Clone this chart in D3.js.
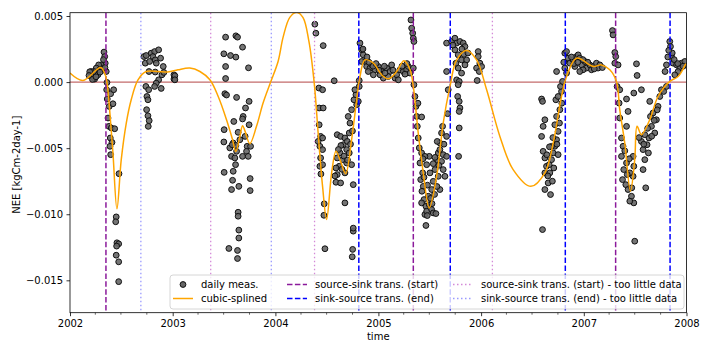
<!DOCTYPE html>
<html>
<head>
<meta charset="utf-8">
<script src="https://cdn.jsdelivr.net/npm/d3@7"></script>
<style>
  html, body { margin: 0; padding: 0; background: #fff; }
  svg { display: block; font-family: 'DejaVu Sans', sans-serif; }
</style>
</head>
<body>
<svg id="chart" width="702" height="342"></svg>
<script>
// daily measurements, [decimal year, NEE]
const meas2002a = [
  [2002.331,0.00227],[2002.338,0.00193],[2002.343,0.00143],[2002.304,0.0013],[2002.279,0.0013],
  [2002.256,0.00106],[2002.233,0.0008],[2002.207,0.0008],[2002.214,0.00042],[2002.240,0.00023],
  [2002.272,0.00055],[2002.289,0.00093],[2002.353,0.0008],[2002.192,0.00078],[2002.185,0.0005],
  [2002.219,0.0002],[2002.253,0.0004],[2002.316,0.001],[2002.326,0.0017],[2002.340,0.0011],[2002.292,0.00075],
  [2002.360,-0.00003],[2002.357,-0.00058],[2002.396,-0.00088],[2002.425,-0.00058],[2002.363,-0.00128],
  [2002.382,-0.00184],[2002.418,-0.00164],[2002.370,-0.00272],[2002.379,-0.00335],[2002.402,-0.00347],
  [2002.435,-0.00353],[2002.392,-0.00423],[2002.409,-0.00456],[2002.389,-0.00486],[2002.396,-0.00549],
  [2002.477,-0.00693],[2002.450,-0.0102],[2002.445,-0.01057],[2002.457,-0.01216],[2002.474,-0.01224],
  [2002.454,-0.01241],[2002.450,-0.0131],[2002.474,-0.0136],[2002.474,-0.0151]
];
const meas2002b = [
  [2002.720,0.00193],[2002.742,0.00201],[2002.733,0.00143],[2002.791,0.00219],[2002.824,0.00231],
  [2002.863,0.00244],[2002.807,0.00193],[2002.830,0.00168],[2002.775,0.00156],[2002.882,0.00181],
  [2002.840,0.00143],[2002.908,0.00118],[2002.769,0.0008],[2002.830,0.00076],[2002.895,0.00055],
  [2002.914,0.00073],[2003.012,0.00055],[2003.012,0.00023],[2002.863,0.00017],[2002.840,-0.00008],
  [2002.824,-0.00033],[2002.888,-0.00048],[2002.739,-0.00033],[2002.766,-0.00058],[2002.749,-0.00109],
  [2002.759,-0.00134],[2002.746,-0.00209],[2002.759,-0.00255],[2002.771,-0.00292],[2002.762,-0.00335],
  [2003.021,0.00048],[2003.021,0.00017]
];
const meas2003 = [
  [2003.515,0.0034],[2003.615,0.0035],[2003.631,0.0034],[2003.680,0.00264],[2003.498,0.00214],
  [2003.563,0.00201],[2003.615,0.00189],[2003.515,0.00118],[2003.738,0.00108],[2003.515,0.00027],
  [2003.508,-0.00088],[2003.524,-0.00098],[2003.622,-0.00116],[2003.744,-0.00146],[2003.709,-0.00196],
  [2003.686,-0.0026],[2003.680,-0.00279],[2003.595,-0.00298],[2003.744,-0.00323],[2003.501,-0.0036],
  [2003.637,-0.0038],[2003.705,-0.00411],[2003.498,-0.00453],[2003.589,-0.00461],[2003.615,-0.00479],
  [2003.654,-0.00436],[2003.725,-0.00486],[2003.556,-0.00498],[2003.622,-0.00524],[2003.573,-0.00562],
  [2003.680,-0.00562],[2003.719,-0.00524],[2003.579,-0.00474],[2003.758,-0.00486],[2003.605,-0.00574],
  [2003.735,-0.00562],[2003.501,-0.00683],[2003.589,-0.00675],[2003.612,-0.00625],[2003.583,-0.00743],
  [2003.573,-0.00813],[2003.644,-0.00789],[2003.754,-0.0073],[2003.754,-0.00821],[2003.637,-0.00985],
  [2003.637,-0.01015],[2003.644,-0.0112],[2003.644,-0.0118],[2003.547,-0.01259],[2003.631,-0.01274],
  [2003.631,-0.01335]
];
const meas2004 = [
  [2004.383,0.00438],[2004.393,0.0037],[2004.464,0.00276],[2004.571,0.0001],[2004.422,-0.00045],
  [2004.458,-0.00058],[2004.425,-0.00196],[2004.464,-0.00196],[2004.425,-0.00323],[2004.439,-0.00411],
  [2004.458,-0.00423],[2004.415,-0.00449],[2004.432,-0.00486],[2004.458,-0.00511],[2004.439,-0.00574],
  [2004.432,-0.00637],[2004.458,-0.00625],[2004.442,-0.00695],[2004.474,-0.00921],[2004.471,-0.01008],
  [2004.481,-0.01261],
  [2004.600,-0.00398],[2004.633,-0.00411],[2004.659,-0.00474],[2004.675,-0.00423],[2004.698,-0.00449],
  [2004.717,-0.00385],[2004.692,-0.00511],[2004.717,-0.00536],[2004.627,-0.00536],[2004.600,-0.00574],
  [2004.653,-0.00587],[2004.620,-0.00637],[2004.588,-0.0065],[2004.600,-0.007],[2004.588,-0.00758],
  [2004.633,-0.00763],[2004.675,-0.00687],[2004.692,-0.00612],[2004.740,-0.00625],[2004.756,-0.00776],
  [2004.675,-0.00914],[2004.756,-0.01128],[2004.750,-0.01266],[2004.746,-0.01322],[2004.756,-0.01105],
  [2004.636,-0.0048],[2004.665,-0.0056],[2004.612,-0.0051],[2004.646,-0.0066],[2004.700,-0.0059],
  [2004.729,-0.0047],[2004.748,-0.0037],[2004.578,-0.0071],
  [2004.724,-0.0031],[2004.740,-0.00209],[2004.763,-0.00134],[2004.782,-0.00096],[2004.772,-0.00058],
  [2004.707,-0.0026],[2004.789,-0.00171],[2004.805,-0.00146],[2004.814,-0.00033],[2004.814,0.00012]
];
const meas2005a = [
  [2004.821,0.00295],[2004.838,0.00244],[2004.853,0.00206],[2004.870,0.00156],[2004.838,0.00156],
  [2004.886,0.00118],[2004.918,0.00106],[2004.902,0.0008],[2004.935,0.0013],[2004.967,0.00093],
  [2004.999,0.00118],[2005.032,0.0008],[2005.048,0.0003],[2005.081,0.00106],[2005.113,0.0008],
  [2005.129,0.0013],[2005.162,0.0003],[2005.178,0.00055],[2005.210,0.00093],[2005.242,0.0008],
  [2005.275,0.00093],[2005.291,0.00118],[2005.308,0.00068],[2005.194,0.00017],[2005.016,0.00055],
  [2004.951,0.00055],[2005.096,0.00042],[2005.064,0.00068],[2004.850,0.0025],[2004.889,0.0019],
  [2004.908,0.0015],[2004.948,0.0012],[2004.977,0.0014],[2005.006,0.0009],[2005.058,0.0012],
  [2005.142,0.0009],[2005.230,0.0012],[2005.259,0.0006],[2005.278,0.0014],
  [2005.317,0.0047],[2005.324,0.00408],[2005.334,0.0037],[2005.340,0.00332],[2005.346,0.00307]
];
const meas2005b = [
  [2005.340,0.00106],[2005.346,-0.0002],[2005.356,-0.00109],[2005.366,-0.00184],[2005.373,-0.0026],
  [2005.421,-0.00264],[2005.379,-0.00335],[2005.388,-0.00423],[2005.398,-0.00498],[2005.421,-0.00536],
  [2005.405,-0.00612],[2005.431,-0.00687],[2005.412,-0.00738],[2005.437,-0.00789],[2005.424,-0.00826],
  [2005.444,-0.00889],[2005.421,-0.00914],[2005.463,-0.0094],[2005.453,-0.01002],[2005.470,-0.00977],
  [2005.463,-0.01085],[2005.495,-0.00927],[2005.519,-0.00965],[2005.534,-0.0099],[2005.560,-0.00995],
  [2005.486,-0.00864],[2005.519,-0.00813],[2005.534,-0.00751],[2005.502,-0.00687],[2005.551,-0.00662],
  [2005.567,-0.00587],[2005.534,-0.00617],[2005.470,-0.00625],[2005.495,-0.00562],[2005.453,-0.00562],
  [2005.583,-0.00536],[2005.599,-0.00461],[2005.573,-0.00449],[2005.615,-0.00385],[2005.625,-0.00335],
  [2005.599,-0.00511],[2005.615,-0.006],[2005.631,-0.00662],[2005.648,-0.00713],[2005.599,-0.00813],
  [2005.583,-0.00713],[2005.631,-0.00549],[2005.664,-0.00562],[2005.664,-0.00411],[2005.674,-0.00239],
  [2005.680,-0.00058],[2005.664,0.0008],
  [2005.444,-0.0072],[2005.478,-0.0078],[2005.508,-0.0088],[2005.547,-0.0085],[2005.476,-0.0101],
  [2005.522,-0.0092],[2005.570,-0.0079],[2005.589,-0.0063],[2005.434,-0.0058],[2005.551,-0.0057],
  [2005.638,-0.0047],[2005.385,-0.0016]
];
const meas2006a = [
  [2005.664,0.00295],[2005.713,0.00307],[2005.745,0.00332],[2005.762,0.00295],[2005.794,0.00307],
  [2005.826,0.00295],[2005.843,0.00269],[2005.745,0.00244],[2005.777,0.00206],[2005.810,0.00168],
  [2005.859,0.00168],[2005.843,0.0013],[2005.777,0.00106],[2005.755,0.00143],[2005.810,0.00068],
  [2005.762,0.00017],[2005.787,0.00005],[2005.777,-0.0002],[2005.772,-0.00109],[2005.787,-0.00146],
  [2005.794,-0.00196],[2005.787,-0.00222],[2005.787,-0.00347],[2005.781,-0.00562],
  [2005.972,0.00231],[2005.972,0.00193],[2005.988,0.00143],[2006.005,0.00118],[2005.956,0.00106],
  [2005.982,0.0008],[2005.962,0.00012],[2005.726,0.0028],[2005.813,0.0025],[2005.833,0.0021],[2005.872,0.0022]
];
const meas2006b = [
  [2006.589,-0.00128],[2006.598,-0.00146],[2006.621,-0.00285],[2006.604,-0.00335],[2006.589,-0.00411],
  [2006.604,-0.00524],[2006.621,-0.00574],[2006.637,-0.00637],[2006.621,-0.00687],[2006.653,-0.00763],
  [2006.621,-0.00813],[2006.676,-0.00851],[2006.598,-0.01116],[2006.669,-0.00687],[2006.686,-0.00587],
  [2006.702,-0.00536],[2006.718,-0.00486],[2006.686,-0.00486],[2006.735,-0.00436],[2006.750,-0.00373],
  [2006.718,-0.00323],[2006.735,-0.0026],[2006.767,-0.00209],[2006.728,-0.00134],[2006.750,-0.00109],
  [2006.783,-0.00071],[2006.773,-0.00033],[2006.793,0.00005],[2006.735,0.0008],[2006.750,-0.00549],
  [2006.663,-0.00625],[2006.708,-0.0065],[2006.640,-0.0055],[2006.694,-0.0075],[2006.650,-0.0071],
  [2006.738,-0.0047],[2006.763,-0.0031],[2006.786,-0.0016],[2006.699,-0.0042],[2006.666,-0.0049]
];
const meas2007a = [
  [2006.815,0.00219],[2006.832,0.00231],[2006.848,0.00181],[2006.815,0.00106],[2006.832,0.00068],
  [2006.864,0.00143],[2006.896,0.00168],[2006.929,0.00193],[2006.945,0.00206],[2006.961,0.00181],
  [2006.978,0.0013],[2007.010,0.00156],[2007.026,0.00106],[2007.059,0.0013],[2007.091,0.00118],
  [2007.123,0.00143],[2007.156,0.0013],[2006.993,0.00093],[2006.913,0.00118],[2006.961,0.0008],
  [2007.075,0.00093],[2007.139,0.00106],[2006.880,0.0019],[2006.904,0.0014],[2006.942,0.0015],
  [2006.991,0.0017],[2007.039,0.0015],[2007.102,0.0010],[2007.181,0.0011],[2006.805,0.0015],
  [2007.279,0.0039],[2007.285,0.00357],[2007.302,0.00224],[2007.311,0.00193],[2007.302,0.00143],
  [2007.334,0.0013]
];
const meas2007b = [
  [2007.324,-0.00033],[2007.350,-0.00058],[2007.344,-0.00159],[2007.350,-0.00272],[2007.367,-0.00423],
  [2007.382,-0.00486],[2007.367,-0.00562],[2007.389,-0.00662],[2007.377,-0.00738],[2007.409,-0.00776],
  [2007.431,-0.00813],[2007.464,-0.00864],[2007.487,-0.00914],[2007.448,-0.00901],[2007.496,-0.01204],
  [2007.416,-0.00335],[2007.431,-0.00222],[2007.416,-0.00128],[2007.513,0.00138],[2007.519,0.0005],
  [2007.487,-0.00083],[2007.561,-0.00058],[2007.480,-0.00562],[2007.487,-0.00637],[2007.480,-0.00713],
  [2007.448,-0.00687],[2007.416,-0.00612],[2007.561,-0.00449],[2007.577,-0.00511],[2007.594,-0.00587],
  [2007.577,-0.00662],[2007.603,-0.008],[2007.616,-0.00474],[2007.635,-0.00423],[2007.659,-0.00335],
  [2007.649,-0.0026],[2007.674,-0.00234],[2007.707,-0.00285],[2007.723,-0.00184],[2007.740,-0.00109],
  [2007.756,-0.00058],[2007.691,-0.00385],[2007.642,-0.00146],[2007.629,-0.00536],[2007.594,-0.00398],
  [2007.399,-0.0052],[2007.423,-0.0070],[2007.467,-0.0080],[2007.443,-0.0058],[2007.538,-0.0042],
  [2007.622,-0.0035],[2007.661,-0.0041],[2007.686,-0.0029],[2007.715,-0.0021],[2007.584,-0.0047],
  [2007.791,0.0008],[2007.805,0.0013],[2007.837,0.00307],[2007.844,0.00269],[2007.854,0.00193],
  [2007.870,0.00143],[2007.903,0.0013],[2007.935,0.00106],[2007.951,0.00143],[2007.984,0.00156],
  [2007.918,0.0008],[2007.886,0.00055],[2007.805,-0.00033],[2007.778,-0.00071],[2007.818,0.0019],
  [2007.861,0.0022],[2007.880,0.0017],[2007.915,0.0014],[2007.967,0.0012],[2007.827,0.0024]
];

const splineKnots = [
  [2002.000,0.00068],[2002.126,0.00012],[2002.299,0.0011],[2002.343,0.00055],[2002.363,-0.0002],
  [2002.386,-0.00209],[2002.418,-0.00534],[2002.457,-0.00959],[2002.499,-0.00587],[2002.548,-0.0031],
  [2002.596,-0.00134],[2002.662,0.00017],[2002.742,0.0008],[2002.856,0.0008],[2002.953,0.00076],
  [2003.051,0.00093],[2003.167,0.00106],[2003.265,0.0008],[2003.362,0.00017],[2003.443,-0.00109],
  [2003.524,-0.00285],[2003.583,-0.00436],[2003.615,-0.00526],[2003.654,-0.00411],[2003.680,-0.0033],
  [2003.705,-0.00373],[2003.751,-0.00466],[2003.816,-0.00335],[2003.880,-0.00159],[2003.952,-0.00003],
  [2004.026,0.00156],[2004.075,0.0034],[2004.140,0.0049],[2004.205,0.00526],[2004.267,0.0049],
  [2004.325,0.0031],[2004.377,-0.00008],[2004.415,-0.00385],[2004.458,-0.00789],[2004.497,-0.0104],
  [2004.546,-0.00687],[2004.588,-0.00524],[2004.627,-0.00587],[2004.682,-0.00693],[2004.740,-0.00436],
  [2004.789,-0.00134],[2004.821,0.00042],[2004.870,0.00168],[2004.951,0.00143],[2005.032,0.00055],
  [2005.096,0.00025],[2005.178,0.0008],[2005.249,0.00161],[2005.308,0.00093],[2005.340,-0.00033],
  [2005.388,-0.00385],[2005.437,-0.00687],[2005.495,-0.00952],[2005.567,-0.00713],[2005.631,-0.0031],
  [2005.697,-0.00033],[2005.762,0.00168],[2005.859,0.00239],[2005.956,0.00168],[2006.054,-0.00058],
  [2006.183,-0.00411],[2006.312,-0.00662],[2006.485,-0.00789],[2006.621,-0.00687],[2006.702,-0.00461],
  [2006.783,-0.00109],[2006.832,0.00042],[2006.929,0.00181],[2007.091,0.00118],[2007.172,0.0013],
  [2007.253,0.00093],[2007.318,0.00005],[2007.350,-0.00209],[2007.399,-0.00461],[2007.454,-0.00826],
  [2007.496,-0.00587],[2007.519,-0.00335],[2007.561,-0.00398],[2007.642,-0.00285],[2007.723,-0.00109],
  [2007.837,0.00005],[2007.918,0.00042],[2007.993,0.0014]
];

// transition dates (decimal year)
const srcSinkStart = [2002.35, 2005.34, 2007.31];
const sinkSrcEnd = [2004.81, 2005.70, 2006.82, 2007.84];
const srcSinkStartFew = [2003.37, 2004.38, 2006.11];
const sinkSrcEndFew = [2002.69, 2003.96];

const yTicks = [0.005, 0.000, -0.005, -0.010, -0.015];
const xTickYears = [2002, 2003, 2004, 2005, 2006, 2007, 2008];

const legendLabels = [
  'daily meas.', 'cubic-splined',
  'source-sink trans. (start)', 'sink-source trans. (end)',
  'source-sink trans. (start) - too little data', 'sink-source trans. (end) - too little data'
];

const toDate = t => {
  const y = Math.floor(t);
  const a = Date.UTC(y, 0, 1), b = Date.UTC(y + 1, 0, 1);
  return new Date(a + (t - y) * (b - a));
};

const margin = { top: 12.7, right: 15.5, bottom: 29.3, left: 70 };
const W = 702, H = 342;
const iw = W - margin.left - margin.right;
const ih = H - margin.top - margin.bottom;

const svg = d3.select('#chart');
const g = svg.append('g').attr('transform', `translate(${margin.left},${margin.top})`);

const x = d3.scaleUtc().domain([toDate(2002), toDate(2008)]).range([0, iw]);
const y = d3.scaleLinear().domain([-0.01745, 0.00525]).range([ih, 0]);

svg.append('defs').append('clipPath').attr('id', 'plotclip')
  .append('rect').attr('width', iw).attr('height', ih);

const plot = g.append('g').attr('clip-path', 'url(#plotclip)');

// zero line
plot.append('line')
  .attr('x1', 0).attr('x2', iw).attr('y1', y(0)).attr('y2', y(0))
  .attr('stroke', '#b03a3a').attr('stroke-width', 1.3).attr('opacity', 0.75);

// points
const allMeas = [].concat(meas2002a, meas2002b, meas2003, meas2004, meas2005a,
  meas2005b, meas2006a, meas2006b, meas2007a, meas2007b);
plot.selectAll('circle.pt').data(allMeas).enter().append('circle')
  .attr('class', 'pt')
  .attr('cx', d => x(toDate(d[0])))
  .attr('cy', d => y(d[1]))
  .attr('r', 2.9)
  .attr('fill', '#666').attr('fill-opacity', 0.9)
  .attr('stroke', '#111').attr('stroke-width', 1);

// vertical transition lines
const vStyles = [
  { data: srcSinkStart, color: '#8b1a9b', dash: '5.5,2.4', w: 1.5 },
  { data: sinkSrcEnd, color: '#0000ff', dash: '5.5,2.4', w: 1.5 },
  { data: srcSinkStartFew, color: '#d48ad8', dash: '1.5,2.5', w: 1.3 },
  { data: sinkSrcEndFew, color: '#9a9aff', dash: '1.5,2.5', w: 1.3 },
];
vStyles.forEach(s => {
  plot.selectAll(null).data(s.data).enter().append('line')
    .attr('x1', d => x(toDate(d))).attr('x2', d => x(toDate(d)))
    .attr('y1', 0).attr('y2', ih)
    .attr('stroke', s.color).attr('stroke-width', s.w)
    .attr('stroke-dasharray', s.dash);
});

// spline
const line = d3.line()
  .x(d => x(toDate(d[0])))
  .y(d => y(d[1]))
  .curve(d3.curveCatmullRom.alpha(0.5));
plot.append('path').datum(splineKnots)
  .attr('d', line)
  .attr('fill', 'none').attr('stroke', '#ffa500').attr('stroke-width', 1.5);

// axes
const xAxis = d3.axisBottom(x)
  .tickValues(xTickYears.map(toDate))
  .tickFormat(d3.utcFormat('%Y'))
  .tickSize(3.5).tickPadding(3.5);
const xg = g.append('g').attr('transform', `translate(0,${ih})`).call(xAxis);

// quarterly minor ticks
const minor = d3.utcMonth.every(3).range(toDate(2002), toDate(2008))
  .filter(d => d.getUTCMonth() !== 0);
g.append('g').selectAll('line').data(minor).enter().append('line')
  .attr('x1', d => x(d)).attr('x2', d => x(d))
  .attr('y1', ih).attr('y2', ih + 2)
  .attr('stroke', '#000').attr('stroke-width', 0.6);

const yAxis = d3.axisLeft(y)
  .tickValues(yTicks)
  .tickFormat(d => d3.format('.3f')(d).replace('-', '\u2212'))
  .tickSize(3.5).tickPadding(3.5);
const yg = g.append('g').call(yAxis);

[xg, yg].forEach(a => {
  a.select('.domain').remove();
  a.selectAll('.tick line').attr('stroke', '#000').attr('stroke-width', 0.8);
  a.selectAll('.tick text').attr('fill', '#000').style('font-size', '10px')
    .style('font-family', "'DejaVu Sans', sans-serif");
});

// frame
g.append('rect').attr('width', iw).attr('height', ih)
  .attr('fill', 'none').attr('stroke', '#000').attr('stroke-width', 0.8);

// axis labels
svg.append('text')
  .attr('x', margin.left + iw / 2).attr('y', 340)
  .attr('text-anchor', 'middle').style('font-size', '10px').text('time');
svg.append('text')
  .attr('transform', `translate(19.5,${margin.top + y(-0.00625)}) rotate(-90)`)
  .attr('text-anchor', 'middle').style('font-size', '10px').text('NEE [kgCm-2day-1]');

// legend
const lg = svg.append('g').attr('transform', 'translate(170,275)');
lg.append('rect').attr('width', 514).attr('height', 34).attr('rx', 3)
  .attr('fill', '#fff').attr('fill-opacity', 0.8)
  .attr('stroke', '#ccc').attr('stroke-width', 0.8);

const rows = [9.5, 23.5];
const cols = [3, 117, 283];
const handles = [
  { type: 'pt' },
  { type: 'line', color: '#ffa500', dash: null, w: 1.5 },
  { type: 'line', color: vStyles[0].color, dash: vStyles[0].dash, w: 1.5 },
  { type: 'line', color: vStyles[1].color, dash: vStyles[1].dash, w: 1.5 },
  { type: 'line', color: vStyles[2].color, dash: vStyles[2].dash, w: 1.3 },
  { type: 'line', color: vStyles[3].color, dash: vStyles[3].dash, w: 1.3 },
];
legendLabels.forEach((lab, i) => {
  const cx = cols[Math.floor(i / 2)];
  const cy = rows[i % 2];
  const h = handles[i];
  if (h.type === 'pt') {
    lg.append('circle').attr('cx', cx + 10).attr('cy', cy).attr('r', 2.9)
      .attr('fill', '#666').attr('stroke', '#111').attr('stroke-width', 1);
  } else {
    lg.append('line').attr('x1', cx).attr('x2', cx + 20).attr('y1', cy).attr('y2', cy)
      .attr('stroke', h.color).attr('stroke-width', h.w)
      .attr('stroke-dasharray', h.dash);
  }
  lg.append('text').attr('x', cx + 28).attr('y', cy).attr('dy', '0.35em')
    .style('font-size', '10px').attr('fill', '#000').text(lab);
});
</script>
</body>
</html>
